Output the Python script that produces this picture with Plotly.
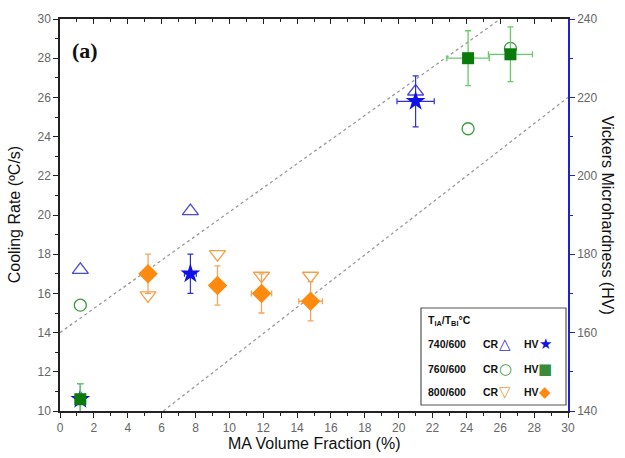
import plotly.graph_objects as go

# ---------------- data ----------------
# Cooling rate (left axis, ºC/s) vs MA volume fraction (%)
cr740_x = [1.2, 7.7, 21.0]
cr740_y = [17.2, 20.2, 26.3]
cr760_x = [1.2, 24.1, 26.6]
cr760_y = [15.4, 24.4, 28.5]
cr800_x = [5.2, 9.3, 11.9, 14.8]
cr800_y = [15.9, 18.0, 16.9, 16.9]

# Vickers microhardness (right axis, HV)
hv740_x = [1.2, 7.7, 21.0]
hv740_y = [143, 175, 219]
hv740_xerr = [0.2, 0.35, 1.1]
hv740_yerr = [4, 5, 6.5]
hv760_x = [1.2, 24.1, 26.6]
hv760_y = [143, 230, 231]
hv760_xerr = [0.2, 1.25, 1.3]
hv760_yerr = [4, 7, 7]
hv800_x = [5.2, 9.3, 11.9, 14.8]
hv800_y = [175, 172, 170, 168]
hv800_xerr = [0.2, 0.2, 0.6, 0.7]
hv800_yerr = [5, 5, 5, 5]

# dotted guide lines (left-axis units)
guide1_x = [0, 26]
guide1_y = [14, 30]
guide2_x = [6.1, 30]
guide2_y = [10, 26]

x_ticks = list(range(0, 31, 2))
y_ticks = list(range(10, 31, 2))
y2_ticks = list(range(140, 241, 20))

FONT = "Liberation Sans, Arial, sans-serif"
TICKCOL = "#666666"

fig = go.Figure()

for gx, gy in [(guide1_x, guide1_y), (guide2_x, guide2_y)]:
    fig.add_trace(go.Scatter(x=gx, y=gy, mode="lines",
                             line=dict(color="#9a9a9a", width=1.3, dash="dot"),
                             hoverinfo="skip", showlegend=False))

# CR series (open markers)
fig.add_trace(go.Scatter(x=cr740_x, y=cr740_y, mode="markers", showlegend=False,
                         marker=dict(symbol="triangle-up-open", size=14,
                                     color="#4a4ad8", line=dict(width=1.3))))
fig.add_trace(go.Scatter(x=cr760_x, y=cr760_y, mode="markers", showlegend=False,
                         marker=dict(symbol="circle-open", size=12,
                                     color="#3c9a3c", line=dict(width=1.3))))
fig.add_trace(go.Scatter(x=cr800_x, y=cr800_y, mode="markers", showlegend=False,
                         marker=dict(symbol="triangle-down-open", size=14,
                                     color="#f5a044", line=dict(width=1.3))))

# HV series (filled markers, right axis)
fig.add_trace(go.Scatter(x=hv740_x, y=hv740_y, yaxis="y2", mode="markers", showlegend=False,
                         marker=dict(symbol="star", size=15, color="#1010e8"),
                         error_x=dict(type="data", array=hv740_xerr, color="#3030d8", thickness=1.2, width=3),
                         error_y=dict(type="data", array=hv740_yerr, color="#3030d8", thickness=1.2, width=3)))
fig.add_trace(go.Scatter(x=hv760_x, y=hv760_y, yaxis="y2", mode="markers", showlegend=False,
                         marker=dict(symbol="square", size=12, color="#0a7a0a"),
                         error_x=dict(type="data", array=hv760_xerr, color="#66cc66", thickness=1.3, width=3),
                         error_y=dict(type="data", array=hv760_yerr, color="#66cc66", thickness=1.3, width=3)))
fig.add_trace(go.Scatter(x=hv800_x, y=hv800_y, yaxis="y2", mode="markers", showlegend=False,
                         marker=dict(symbol="diamond", size=15, color="#ff8a10"),
                         error_x=dict(type="data", array=hv800_xerr, color="#f2a560", thickness=1.3, width=3),
                         error_y=dict(type="data", array=hv800_yerr, color="#f2a560", thickness=1.3, width=3)))

fig.update_layout(
    width=625, height=458,
    margin=dict(l=60, r=57, t=19, b=47, autoexpand=False),
    paper_bgcolor="white", plot_bgcolor="white",
    font=dict(family=FONT, color=TICKCOL, size=12),
    showlegend=False,
    xaxis=dict(range=[0, 30], tickvals=x_ticks, ticks="outside", ticklen=5, tickwidth=1.3,
               tickcolor="#222", showline=True, linecolor="#222", linewidth=1.5, automargin=False,
               showgrid=False, zeroline=False, tickfont=dict(size=12, color=TICKCOL),
               minor=dict(dtick=1, ticks="outside", ticklen=3, tickcolor="#222")),
    xaxis2=dict(range=[0, 30], overlaying="x", side="top", anchor="y", automargin=False,
                tickvals=x_ticks, ticks="inside", ticklen=5, tickwidth=1.3,
                tickcolor="#222", showline=True, linecolor="#222", linewidth=1.5,
                showticklabels=False, showgrid=False, zeroline=False,
                minor=dict(dtick=1, ticks="inside", ticklen=3, tickcolor="#222")),
    yaxis=dict(range=[10, 30], tickvals=y_ticks, ticks="outside", ticklen=5, tickwidth=1.3,
               tickcolor="#222", showline=True, linecolor="#222", linewidth=1.5, automargin=False,
               showgrid=False, zeroline=False, tickfont=dict(size=12, color=TICKCOL),
               minor=dict(dtick=1, ticks="outside", ticklen=3, tickcolor="#222")),
    yaxis2=dict(range=[140, 240], tickvals=y2_ticks, overlaying="y", side="right", automargin=False,
                ticks="outside", ticklen=5, tickwidth=1.3, tickcolor="#2020d0",
                showline=True, linecolor="#2020d0", linewidth=1.5,
                showgrid=False, zeroline=False, tickfont=dict(size=12, color=TICKCOL),
                minor=dict(dtick=10, ticks="outside", ticklen=3, tickcolor="#2020d0")),
)

# invisible anchor trace for the top axis
fig.add_trace(go.Scatter(x=[None], y=[None], xaxis="x2", mode="markers",
                         showlegend=False, hoverinfo="skip"))

ann = []
ann.append(dict(text="MA Volume Fraction (%)", xref="paper", yref="paper", x=0.5, y=-0.084,
                showarrow=False, font=dict(size=16, color="#111", family=FONT),
                xanchor="center", yanchor="middle"))
ann.append(dict(text="Cooling Rate (ºC/s)", xref="paper", yref="paper", x=-0.09, y=0.5,
                textangle=-90, showarrow=False, font=dict(size=16, color="#111", family=FONT),
                xanchor="center", yanchor="middle"))
ann.append(dict(text="Vickers Microhardness (HV)", xref="paper", yref="paper", x=1.079, y=0.5,
                textangle=90, showarrow=False, font=dict(size=16, color="#111", family=FONT),
                xanchor="center", yanchor="middle"))
ann.append(dict(text="<b>(a)</b>", xref="paper", yref="paper", x=0.02, y=0.92,
                showarrow=False, font=dict(size=22, color="#111", family="Liberation Serif, Times New Roman, serif"),
                xanchor="left", yanchor="middle"))

# legend box
def px_x(p):
    return (p - 60) / 508.0

def px_y(p):
    return (411 - p) / 392.0

LF = dict(size=10.5, color="#111", family=FONT)
ann.append(dict(text="<b>T<sub>IA</sub>/T<sub>BI</sub>°C</b>", xref="paper", yref="paper",
                x=px_x(426), y=px_y(321), showarrow=False, font=LF,
                xanchor="left", yanchor="middle"))
rows = [("740/600", "△", "#3030d8", "★", "#1010e8", 344),
        ("760/600", "○", "#3c9a3c", "■", "#3a8a3a", 369),
        ("800/600", "▽", "#e8a040", "◆", "#ff8a10", 392)]
for lab, s1, c1, s2, c2, yy in rows:
    ann.append(dict(text=f"<b>{lab}</b>", xref="paper", yref="paper", x=px_x(426), y=px_y(yy),
                    showarrow=False, font=LF, xanchor="left", yanchor="middle"))
    ann.append(dict(text="<b>CR</b>", xref="paper", yref="paper", x=px_x(481), y=px_y(yy),
                    showarrow=False, font=LF, xanchor="left", yanchor="middle"))
    ann.append(dict(text=f"<b>{s1}</b>", xref="paper", yref="paper", x=px_x(505), y=px_y(yy),
                    showarrow=False, font=dict(size=15, color=c1, family="DejaVu Sans"),
                    xanchor="center", yanchor="middle"))
    ann.append(dict(text="<b>HV</b>", xref="paper", yref="paper", x=px_x(522), y=px_y(yy),
                    showarrow=False, font=LF, xanchor="left", yanchor="middle"))
    ann.append(dict(text=s2, xref="paper", yref="paper", x=px_x(545), y=px_y(yy),
                    showarrow=False, font=dict(size=15, color=c2, family="DejaVu Sans"),
                    xanchor="center", yanchor="middle"))

fig.update_layout(annotations=ann)
fig.add_shape(type="rect", xref="paper", yref="paper",
              x0=px_x(421), x1=px_x(566), y0=px_y(405), y1=px_y(308),
              line=dict(color="#555", width=1.2), fillcolor="rgba(0,0,0,0)")

fig.write_html("out.html", config={"displayModeBar": False},
               post_script="document.body.style.margin='0px';document.body.style.overflow='hidden';")
